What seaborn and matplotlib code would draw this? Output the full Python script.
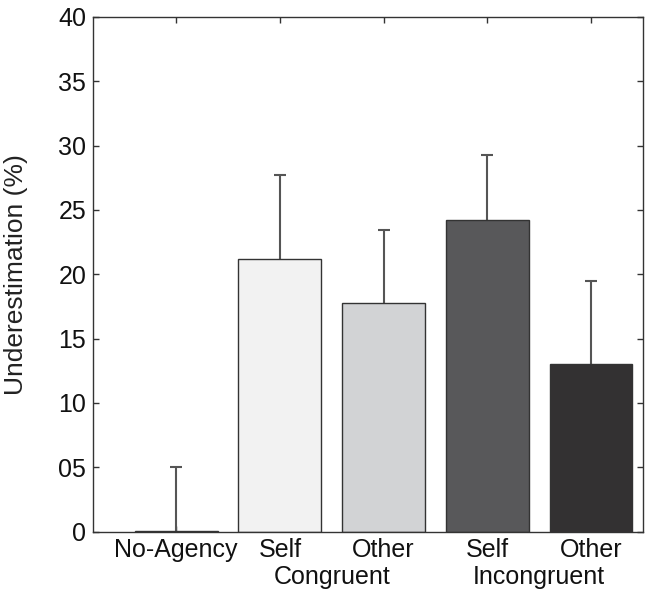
import numpy as np
import pandas as pd
import matplotlib
matplotlib.use('Agg')
import matplotlib.pyplot as plt
import matplotlib.transforms as mtransforms
import seaborn as sns

# values
conditions = ['No-Agency', 'Self Congruent', 'Other Congruent', 'Self Incongruent', 'Other Incongruent']
tick_labels = ['No-Agency', 'Self', 'Other', 'Self', 'Other']
group_labels = ['Congruent', 'Incongruent']
means = [0.05, 21.2, 17.75, 24.2, 13.05]
errors = [4.95, 6.5, 5.7, 5.1, 6.45]
bar_colors = ['#ffffff', '#f2f2f2', '#d2d3d5', '#58585a', '#333132']

df = pd.DataFrame({'condition': conditions, 'underestimation': means})

sns.set_style('ticks')
plt.rcParams['font.family'] = ['Liberation Sans', 'DejaVu Sans']

fig = plt.figure(figsize=(6.5, 5.96), dpi=100)
ax = fig.add_axes([0.1435, 0.1082, 0.8455, 0.8633])

sns.barplot(data=df, x='condition', y='underestimation', hue='condition',
            palette=bar_colors, legend=False, width=0.8,
            edgecolor='#333333', linewidth=1.0, ax=ax, zorder=2)

x = np.arange(len(conditions))
eb = ax.errorbar(x, means, yerr=[np.zeros(len(errors)), errors], fmt='none',
                 ecolor='#555555', elinewidth=1.5, capsize=4, capthick=1.5, zorder=1)
# only the upper cap, like the original
eb[1][0].set_visible(False)

ax.set_xlim(-0.8, 4.5)
ax.set_ylim(0, 40)
ax.set_yticks(np.arange(0, 41, 5))
ax.set_yticklabels(['0', '05', '10', '15', '20', '25', '30', '35', '40'])
ax.set_xticks(x)
ax.set_xticklabels(tick_labels)
ax.set_xlabel('')
ax.set_ylabel('Underestimation (%)', fontsize=19, color='#222222', labelpad=22)

ax.tick_params(direction='in', length=4, width=1, color='#333333',
               top=True, right=True, labelsize=18, labelcolor='#111111', pad=5)
for s in ax.spines.values():
    s.set_visible(True)
    s.set_color('#333333')
    s.set_linewidth(1.0)

# second line of the grouped labels
trans = mtransforms.blended_transform_factory(ax.transData, ax.transAxes)
for pos, lab in zip([1.5, 3.5], group_labels):
    ax.text(pos, -0.088, lab, transform=trans, ha='center', va='center',
            fontsize=18, color='#111111')

fig.savefig('out.png', dpi=100)
